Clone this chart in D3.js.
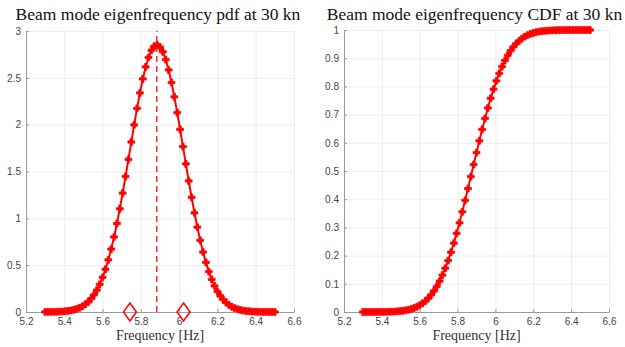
<!DOCTYPE html>
<html><head><meta charset="utf-8">
<script src="https://cdn.jsdelivr.net/npm/d3@7"></script>
<style>
html,body{margin:0;padding:0;background:#fff;}
svg{display:block;}
.serif{font-family:"Liberation Serif","DejaVu Serif",serif;}
.sans{font-family:"Liberation Sans",Arial,sans-serif;}
</style></head>
<body>
<svg id="c" width="625" height="347"></svg>
<script>
// ---------- data ----------
const freq = [5.300,5.315,5.330,5.345,5.360,5.375,5.390,5.405,5.420,5.435,5.450,5.465,5.480,5.495,5.510,5.525,5.540,5.555,5.570,5.585,5.600,5.615,5.630,5.645,5.660,5.675,5.690,5.705,5.720,5.735,5.750,5.765,5.780,5.795,5.810,5.825,5.840,5.855,5.870,5.885,5.900,5.915,5.930,5.945,5.960,5.975,5.990,6.005,6.020,6.035,6.050,6.065,6.080,6.095,6.110,6.125,6.140,6.155,6.170,6.185,6.200,6.215,6.230,6.245,6.260,6.275,6.290,6.305,6.320,6.335,6.350,6.365,6.380,6.395,6.410,6.425,6.440,6.455,6.470,6.485,6.500];
const pdfValues = [0.0005,0.0008,0.0012,0.0018,0.0027,0.0039,0.0058,0.0084,0.0120,0.0170,0.0239,0.0331,0.0452,0.0613,0.0819,0.1084,0.1418,0.1831,0.2339,0.2956,0.3696,0.4563,0.5567,0.6718,0.8011,0.9450,1.1018,1.2702,1.4470,1.6297,1.8149,1.9979,2.1743,2.339,2.488,2.616,2.719,2.794,2.838,2.850,2.829,2.777,2.694,2.584,2.450,2.297,2.128,1.950,1.766,1.581,1.399,1.224,1.059,0.9057,0.7655,0.6398,0.5287,0.4318,0.3486,0.2782,0.2195,0.1713,0.1321,0.1007,0.0759,0.0565,0.0416,0.0303,0.0218,0.0155,0.0109,0.0076,0.0052,0.0036,0.0024,0.0016,0.0010,0.0007,0.0004,0.0003,0.0002];
const cdfValues = [0.0000,0.0000,0.0000,0.0001,0.0001,0.0002,0.0003,0.0004,0.0006,0.0008,0.0011,0.0016,0.0023,0.0032,0.0044,0.0060,0.0080,0.0107,0.0142,0.0185,0.0239,0.0307,0.0389,0.0488,0.0606,0.0745,0.0908,0.1096,0.1311,0.1553,0.1822,0.2119,0.2442,0.2790,0.3161,0.3553,0.3959,0.4376,0.4801,0.5227,0.5651,0.6069,0.6476,0.6865,0.7234,0.7580,0.7902,0.8197,0.8464,0.8705,0.8918,0.9104,0.9265,0.9403,0.9520,0.9617,0.9699,0.9765,0.9818,0.9861,0.9895,0.9921,0.9942,0.9957,0.9969,0.9978,0.9984,0.9989,0.9992,0.9995,0.9996,0.9997,0.9998,0.9999,0.9999,0.9999,1.0000,1.0000,1.0000,1.0000,1.0000];
const meanFreq = [5.883];
const sigmaBounds = [5.743, 6.023];
const xTickLabels = ["5.2","5.4","5.6","5.8","6","6.2","6.4","6.6"];
const pdfTickLabels = ["0","0.5","1","1.5","2","2.5","3"];
const cdfTickLabels = ["0","0.1","0.2","0.3","0.4","0.5","0.6","0.7","0.8","0.9","1"];
const titles = ["Beam mode eigenfrequency pdf at 30 kn","Beam mode eigenfrequency CDF at 30 kn"];
const xLabel = "Frequency [Hz]";

// ---------- drawing ----------
const svg = d3.select("#c");
const RED = "#ff0000";

function panel(box, yTicks, values, title, extra) {
  const xt = xTickLabels.map(Number);
  const yt = yTicks.map(Number);
  const x = d3.scaleLinear().domain([xt[0], xt[xt.length-1]]).range([box.x0, box.x1]);
  const y = d3.scaleLinear().domain([yt[0], yt[yt.length-1]]).range([box.y1, box.y0]);
  const g = svg.append("g");

  // grid
  g.append("g").attr("transform", `translate(0,${box.y1})`)
    .call(d3.axisBottom(x).tickValues(xt).tickSize(-(box.y1-box.y0)).tickFormat(""))
    .call(s => { s.select(".domain").remove(); s.selectAll("line").attr("stroke","#e8e8e8").attr("stroke-width",0.8); });
  g.append("g").attr("transform", `translate(${box.x0},0)`)
    .call(d3.axisLeft(y).tickValues(yt).tickSize(-(box.x1-box.x0)).tickFormat(""))
    .call(s => { s.select(".domain").remove(); s.selectAll("line").attr("stroke","#e8e8e8").attr("stroke-width",0.8); });

  // axes
  const ax = g.append("g").attr("transform", `translate(0,${box.y1})`)
    .call(d3.axisBottom(x).tickValues(xt).tickSize(-3).tickSizeOuter(0).tickPadding(6)
      .tickFormat((d,i) => xTickLabels[i]));
  const ay = g.append("g").attr("transform", `translate(${box.x0},0)`)
    .call(d3.axisLeft(y).tickValues(yt).tickSize(-3).tickSizeOuter(0).tickPadding(5)
      .tickFormat((d,i) => yTicks[i]));
  [ax, ay].forEach(a => {
    a.attr("font-family", null).attr("font-size", null);
    a.select(".domain").attr("stroke","#9a9a9a").attr("stroke-width",1);
    a.selectAll(".tick line").attr("stroke","#9a9a9a");
    a.selectAll("text").attr("class","sans")
      .style("font-size","10px").attr("fill","#444");
  });

  if (extra) extra(g, x, y);

  const pts = freq.map((f,i) => [f, values[i]]);
  g.append("path").datum(pts)
    .attr("fill","none").attr("stroke",RED).attr("stroke-width",2)
    .attr("stroke-linejoin","round")
    .attr("d", d3.line().x(d => x(d[0])).y(d => y(d[1])));
  const sym = d3.symbol().type(d3.symbolCross).size(26);
  g.append("g").selectAll("path.m").data(pts).join("path")
    .attr("transform", d => `translate(${x(d[0])},${y(d[1])})`)
    .attr("d", sym).attr("fill",RED).attr("stroke",RED).attr("stroke-width",0.8);

  svg.append("text").attr("class","serif").attr("x", (box.x0+box.x1)/2 - 2).attr("y", 20)
    .attr("text-anchor","middle")
    .style("font-size","17.5px").attr("fill","#111").text(title);
  svg.append("text").attr("class","serif").attr("x", (box.x0+box.x1)/2).attr("y", 340)
    .attr("text-anchor","middle")
    .style("font-size","14px").attr("fill","#333").text(xLabel);
}

panel({x0:26, x1:294, y0:31, y1:312}, pdfTickLabels, pdfValues, titles[0], (g, x, y) => {
  g.selectAll("line.mean").data(meanFreq).join("line")
    .attr("x1", d => x(d)).attr("x2", d => x(d))
    .attr("y1", y(0)).attr("y2", y(3))
    .attr("stroke", RED).attr("stroke-opacity",0.8).attr("stroke-width",1.6)
    .attr("stroke-dasharray","6,4");
  g.selectAll("path.dia").data(sigmaBounds).join("path")
    .attr("transform", d => `translate(${x(d)},${y(0)})`)
    .attr("d", "M0,-9L6.5,0L0,9L-6.5,0Z")
    .attr("fill","none").attr("stroke",RED).attr("stroke-width",1.5);
});
panel({x0:344, x1:609, y0:30, y1:312}, cdfTickLabels, cdfValues, titles[1]);
</script>
</body></html>
